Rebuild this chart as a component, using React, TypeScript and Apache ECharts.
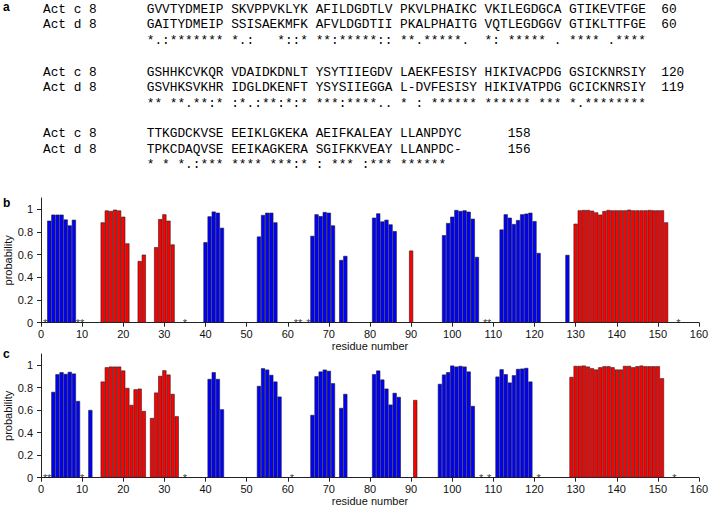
import React, { useEffect, useRef } from "react";
import * as echarts from "echarts";

// ---------- panel a: alignment ----------
const seqNames = ["Act c 8", "Act d 8"];
const block1 = [
  "GVVTYDMEIP SKVPPVKLYK AFILDGDTLV PKVLPHAIKC VKILEGDGCA GTIKEVTFGE",
  "GAITYDMEIP SSISAEKMFK AFVLDGDTII PKALPHAITG VQTLEGDGGV GTIKLTTFGE",
  "*.:******* *.:   *::* **:*****:: **.*****.  *: ***** . **** .****",
];
const block2 = [
  "GSHHKCVKQR VDAIDKDNLT YSYTIIEGDV LAEKFESISY HIKIVACPDG GSICKNRSIY",
  "GSVHKSVKHR IDGLDKENFT YSYSIIEGGA L-DVFESISY HIKIVATPDG GCICKNRSIY",
  "** **.**:* :*.:**:*:* ***:****.. * : ****** ****** *** *.********",
];
const block3 = [
  "TTKGDCKVSE EEIKLGKEKA AEIFKALEAY LLANPDYC",
  "TPKCDAQVSE EEIKAGKERA SGIFKKVEAY LLANPDC-",
  "* * *.:*** **** ***:* : *** :*** ******",
];
const endNumbers = [
  ["60", "60"],
  ["120", "119"],
  ["158", "156"],
];

// ---------- panel b ----------
const bBlue: [number, number][] = [
  [2, 0.9], [3, 0.953], [4, 0.953], [5, 0.953], [6, 0.91], [7, 0.858], [8, 0.908],
  [40, 0.71], [41, 0.938], [42, 0.98], [43, 0.97], [44, 0.837],
  [53, 0.76], [54, 0.95], [55, 0.97], [56, 0.97], [57, 0.885],
  [66, 0.766], [67, 0.956], [68, 0.94], [69, 0.976], [70, 0.97], [71, 0.858],
  [73, 0.553], [74, 0.589],
  [81, 0.926], [82, 0.964], [83, 0.893], [84, 0.908], [85, 0.867], [86, 0.808],
  [98, 0.772], [99, 0.879], [100, 0.935], [101, 0.994], [102, 0.985], [103, 0.991], [104, 0.979], [105, 0.917], [106, 0.58],
  [112, 0.822], [113, 0.956], [114, 0.926], [115, 0.87], [116, 0.905], [117, 0.956], [118, 0.962], [119, 0.97], [120, 0.896], [121, 0.615],
  [128, 0.598],
];
const bRed: [number, number][] = [
  [15, 0.885], [16, 0.99], [17, 0.985], [18, 0.997], [19, 0.99], [20, 0.935], [21, 0.7],
  [24, 0.544], [25, 0.6],
  [28, 0.666], [29, 0.914], [30, 0.956], [31, 0.9], [32, 0.69],
  [90, 0.636],
  [130, 0.873], [131, 0.991], [132, 0.994], [133, 0.994], [134, 0.988], [135, 0.973], [136, 0.953], [137, 0.985],
  [138, 0.994], [139, 0.991], [140, 0.991], [141, 0.991], [142, 0.991], [143, 0.997], [144, 0.991], [145, 0.991],
  [146, 0.991], [147, 0.991], [148, 0.994], [149, 0.991], [150, 0.991], [151, 0.991], [152, 0.885],
];
const bStars = [1, 9, 10, 35, 62, 63, 65, 108, 109, 155];

// ---------- panel c ----------
const cBlue: [number, number][] = [
  [3, 0.763], [4, 0.92], [5, 0.938], [6, 0.923], [7, 0.941], [8, 0.926], [9, 0.682],
  [12, 0.602],
  [41, 0.878], [42, 0.938], [43, 0.878], [44, 0.608],
  [53, 0.816], [54, 0.973], [55, 0.961], [56, 0.914], [57, 0.855], [58, 0.721],
  [66, 0.558], [67, 0.902], [68, 0.944], [69, 0.961], [70, 0.95], [71, 0.84],
  [73, 0.62], [74, 0.745],
  [81, 0.92], [82, 0.953], [83, 0.873], [84, 0.792], [85, 0.65], [86, 0.754], [87, 0.718],
  [97, 0.834], [98, 0.917], [99, 0.938], [100, 0.997], [101, 0.988], [102, 0.994], [103, 0.988], [104, 0.944], [105, 0.638],
  [111, 0.899], [112, 0.964], [113, 0.92], [114, 0.846], [115, 0.911], [116, 0.967], [117, 0.97], [118, 0.976], [119, 0.855],
];
const cRed: [number, number][] = [
  [15, 0.855], [16, 0.982], [17, 0.988], [18, 0.988], [19, 0.988], [20, 0.953], [21, 0.798], [22, 0.647], [23, 0.786], [24, 0.792], [25, 0.593],
  [27, 0.531], [28, 0.757], [29, 0.905], [30, 0.955], [31, 0.917], [32, 0.745], [33, 0.546],
  [91, 0.691],
  [129, 0.896], [130, 0.994], [131, 0.994], [132, 0.997], [133, 0.988], [134, 0.973], [135, 0.962], [136, 0.982],
  [137, 0.991], [138, 0.991], [139, 0.982], [140, 0.962], [141, 0.962], [142, 0.994], [143, 0.994], [144, 0.982],
  [145, 0.991], [146, 0.997], [147, 0.991], [148, 0.991], [149, 0.991], [150, 0.991], [151, 0.884],
];
const cStars = [1, 2, 10, 35, 61, 107, 109, 121, 154];

const yTicks = [0, 0.2, 0.4, 0.6, 0.8, 1];
const xName = "residue number";
const yName = "probability";

// ---------- layout ----------
const W = 709;
const H = 509;
const GL = 41;
const GR = 10;
const unitW = (W - GL - GR) / 160;
const SANS = '"Liberation Sans", Arial, Helvetica, sans-serif';
const MONO = '"Liberation Mono", "DejaVu Sans Mono", monospace';
const BLUE = "#0000ff";
const RED = "#ff0000";
const EDGE = "#202020";
const AXIS = "#222";

function buildGraphic() {
  const els: any[] = [];
  const blocks = [block1, block2, block3];
  const blockTop = [9, 72, 133.5];
  const pitch = 15.5;
  const numCol = [67, 67, 47];
  const nameX = 43;
  const seqX = 146.7;
  const fs = 12.8;
  blocks.forEach((blk, bi) => {
    blk.forEach((line, li) => {
      const y = blockTop[bi] + li * pitch;
      if (li < 2) {
        els.push({
          type: "text",
          x: nameX,
          y,
          style: { text: seqNames[li], fontSize: fs, fontFamily: MONO, fill: "#000", verticalAlign: "middle" },
        });
      }
      let txt = line;
      if (li < 2) {
        txt = line + " ".repeat(numCol[bi] - line.length) + endNumbers[bi][li];
      }
      els.push({
        type: "text",
        x: seqX,
        y,
        style: { text: txt, fontSize: fs, fontFamily: MONO, fill: "#000", verticalAlign: "middle" },
      });
    });
  });
  const panelLabels = [
    ["a", 3, 6.5],
    ["b", 3, 203],
    ["c", 3, 354],
  ];
  panelLabels.forEach(([t, x, y]) => {
    els.push({
      type: "text",
      x,
      y,
      style: { text: t, fontSize: 12, fontWeight: "bold", fontFamily: SANS, fill: "#000", verticalAlign: "middle" },
    });
  });
  return els;
}

function xAxisFor(gi: number) {
  return {
    type: "value",
    gridIndex: gi,
    min: 0,
    max: 160,
    interval: 10,
    axisLine: { show: true, onZero: false, lineStyle: { color: AXIS, width: 1 } },
    axisTick: { show: true, inside: false, length: 4, lineStyle: { color: AXIS, width: 1 } },
    axisLabel: { fontSize: 11, color: "#111", fontFamily: SANS, margin: 6 },
    splitLine: { show: false },
    name: xName,
    nameLocation: "middle",
    nameGap: 18,
    nameTextStyle: { fontSize: 11, color: "#111", fontFamily: SANS },
  };
}

function yAxisFor(gi: number) {
  return {
    type: "value",
    gridIndex: gi,
    min: 0,
    max: 1.1,
    axisLine: { show: true, onZero: false, lineStyle: { color: AXIS, width: 1 } },
    axisTick: { show: true, inside: false, length: 4, lineStyle: { color: AXIS, width: 1 }, customValues: yTicks },
    axisLabel: { fontSize: 11, color: "#111", fontFamily: SANS, margin: 8, customValues: yTicks },
    splitLine: { show: false },
    name: yName,
    nameLocation: "middle",
    nameGap: 28,
    nameMoveOverlap: false,
    nameTextStyle: { fontSize: 11, color: "#111", fontFamily: SANS },
  };
}

function barSeries(gi: number, data: [number, number][], color: string) {
  return {
    type: "bar",
    xAxisIndex: gi,
    yAxisIndex: gi,
    data,
    barWidth: unitW,
    barGap: "-100%",
    itemStyle: { color, borderColor: EDGE, borderWidth: 0.6 },
  };
}

function starSeries(gi: number, pos: number[]) {
  return {
    type: "scatter",
    xAxisIndex: gi,
    yAxisIndex: gi,
    data: pos.map((r) => [r, 0]),
    symbolSize: 1,
    itemStyle: { color: "rgba(0,0,0,0)" },
    z: 5,
    label: {
      show: true,
      formatter: "*",
      position: "inside",
      fontSize: 11,
      color: "#000",
      fontFamily: SANS,
      offset: [0, 0],
    },
  };
}

export default function App() {
  const ref = useRef<HTMLDivElement>(null);
  useEffect(() => {
    if (!ref.current) return;
    const chart = echarts.init(ref.current, null, { renderer: "svg" });
    chart.setOption({
      animation: false,
      backgroundColor: "#fff",
      grid: [
        { left: GL, right: GR, top: 198, height: 124.7, containLabel: false, outerBoundsMode: "none" },
        { left: GL, right: GR, top: 354, height: 123.7, containLabel: false, outerBoundsMode: "none" },
      ],
      xAxis: [xAxisFor(0), xAxisFor(1)],
      yAxis: [yAxisFor(0), yAxisFor(1)],
      series: [
        barSeries(0, bBlue, BLUE),
        barSeries(0, bRed, RED),
        starSeries(0, bStars),
        barSeries(1, cBlue, BLUE),
        barSeries(1, cRed, RED),
        starSeries(1, cStars),
      ],
      graphic: { elements: buildGraphic() },
    });
    return () => chart.dispose();
  }, []);
  return (
    <div
      ref={ref}
      style={{ position: "fixed", left: 0, top: 0, width: W, height: H, background: "#fff" }}
    />
  );
}
